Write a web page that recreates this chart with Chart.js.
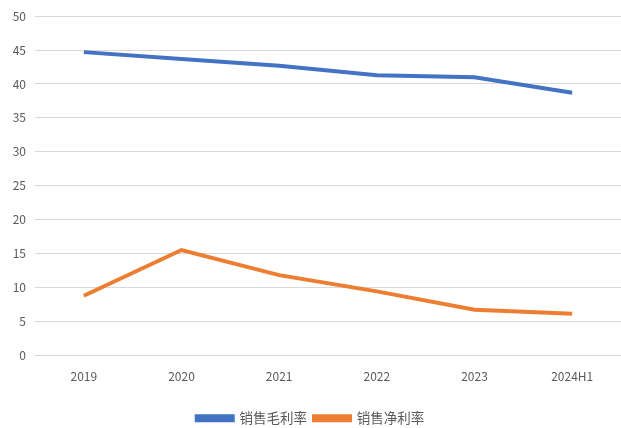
<!DOCTYPE html>
<html>
<head>
<meta charset="utf-8">
<script src="https://cdn.jsdelivr.net/npm/chart.js@4/dist/chart.umd.min.js"></script>
<style>
    html, body { margin: 0; padding: 0; background: #fff; }
    #wrap { width: 621px; height: 428px; }
</style>
</head>
<body>
<div id="wrap"><canvas id="marginChart"></canvas></div>
<script>
// Gross and net sales margin (%) by year
const years = ["2019", "2020", "2021", "2022", "2023", "2024H1"];
const grossMargin = [44.7, 43.7, 42.7, 41.3, 41.0, 38.7];
const netMargin = [8.75, 15.5, 11.8, 9.4, 6.7, 6.1];
const seriesNames = ["销售毛利率", "销售净利率"];

const textColor = "#595959";
const fontFamily = "'Noto Sans CJK SC', 'Noto Sans', sans-serif";

new Chart(document.getElementById("marginChart"), {
    type: "line",
    data: {
        labels: years,
        datasets: [{
            label: seriesNames[0],
            data: grossMargin,
            borderColor: "#4472C4",
            backgroundColor: "#4472C4",
            borderWidth: 4,
            pointRadius: 0,
            tension: 0
        }, {
            label: seriesNames[1],
            data: netMargin,
            borderColor: "#ED7D31",
            backgroundColor: "#ED7D31",
            borderWidth: 4,
            pointRadius: 0,
            tension: 0
        }]
    },
    options: {
        responsive: true,
        maintainAspectRatio: false,
        animation: false,
        layout: { padding: { top: 10, right: 0, left: 0, bottom: -7 } },
        plugins: {
            tooltip: { enabled: false },
            legend: {
                position: "bottom",
                labels: {
                    color: textColor,
                    font: { family: fontFamily, size: 13.5 },
                    boxWidth: 36,
                    boxHeight: 4,
                    padding: 7
                }
            }
        },
        scales: {
            x: {
                offset: true,
                // leave room between the year labels and the legend
                afterFit: function(axis) { axis.height += 15; },
                grid: { display: false },
                border: { display: false },
                ticks: { color: textColor, font: { family: fontFamily, size: 12 }, padding: 6 }
            },
            y: {
                min: 0,
                max: 50,
                afterFit: function(axis) { axis.width = 35; },
                grid: { color: "#d9d9d9", lineWidth: 1, drawTicks: false },
                border: { display: false },
                ticks: { stepSize: 5, color: textColor, font: { family: fontFamily, size: 12 }, padding: 9 }
            }
        }
    }
});
</script>
</body>
</html>
